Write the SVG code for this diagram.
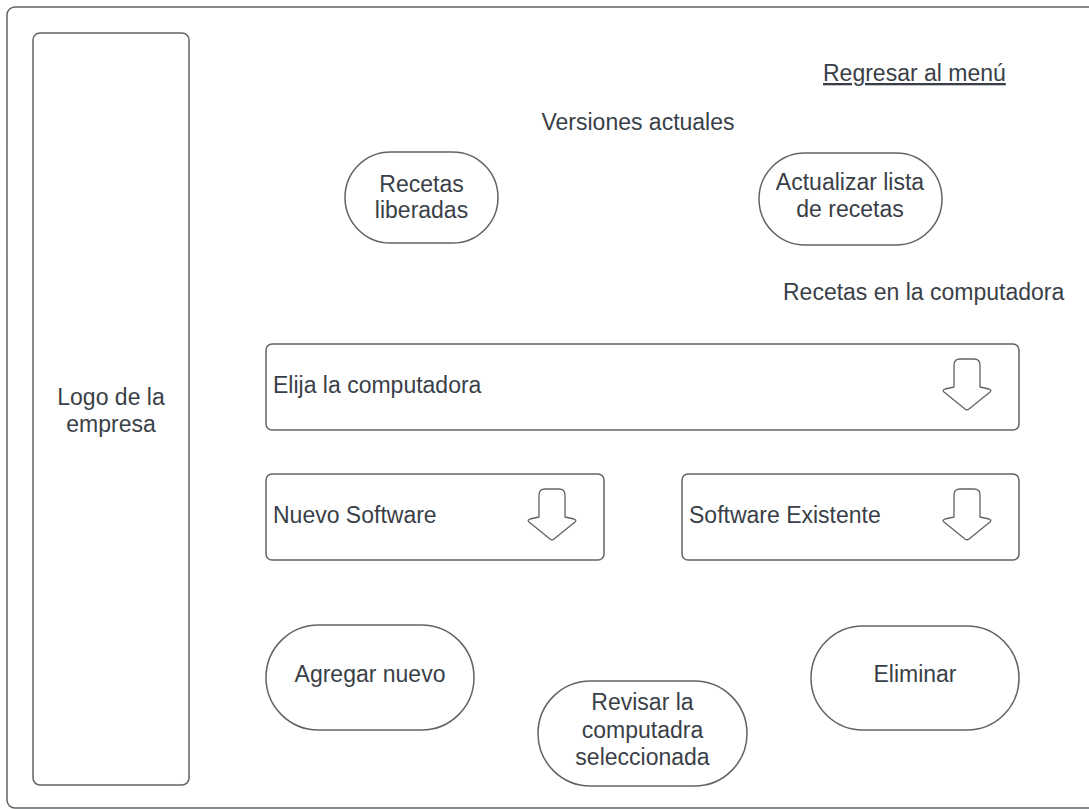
<svg xmlns="http://www.w3.org/2000/svg" width="1089" height="809" viewBox="0 0 1089 809">
<defs>
<style>
.box{fill:#fff;stroke:#5f6368;stroke-width:1.5}
.t{font-family:"Liberation Sans",Arial,sans-serif;font-size:23px;fill:#3a3f47}
.c{text-anchor:middle}
.arr{fill:#fff;stroke:#5f6368;stroke-width:1.3;stroke-linejoin:round}
</style>
<path id="down" d="M11,28 L11,6 Q11,0 17,0 L31,0 Q37,0 37,6 L37,28 L46,30 Q49,31 47,33 L26,50 Q24,51.5 22,50 L1,33 Q-1,31 2,30 Z"/>
</defs>
<rect width="1089" height="809" fill="#fff"/>
<g id="frame"><rect class="box" x="7" y="7" width="1092" height="801" rx="8"/></g>
<g id="logo"><rect class="box" x="33" y="33" width="156" height="752" rx="7"/>
<text class="t c" x="111" y="405">Logo de la</text><text class="t c" x="111" y="432">empresa</text></g>
<g id="regresar"><text class="t" x="823" y="81" text-decoration="underline">Regresar al menú</text></g>
<g id="versiones"><text class="t c" x="638" y="130">Versiones actuales</text></g>
<g id="recetas-liberadas"><rect class="box" x="345" y="152" width="153" height="91" rx="45.5"/>
<text class="t c" x="421.5" y="192">Recetas</text><text class="t c" x="421.5" y="218">liberadas</text></g>
<g id="actualizar"><rect class="box" x="759" y="153" width="183" height="92" rx="46"/>
<text class="t c" x="850" y="190">Actualizar lista</text><text class="t c" x="850" y="217">de recetas</text></g>
<g id="recetas-comp"><text class="t" x="783" y="300">Recetas en la computadora</text></g>
<g id="elija"><rect class="box" x="266" y="344" width="753" height="86" rx="6"/>
<text class="t" x="273" y="393">Elija la computadora</text>
<use href="#down" class="arr" x="943" y="359"/></g>
<g id="nuevo"><rect class="box" x="266" y="474" width="338" height="86" rx="6"/>
<text class="t" x="273" y="523">Nuevo Software</text>
<use href="#down" class="arr" x="528" y="489"/></g>
<g id="existente"><rect class="box" x="682" y="474" width="337" height="86" rx="6"/>
<text class="t" x="689" y="523">Software Existente</text>
<use href="#down" class="arr" x="943" y="489"/></g>
<g id="agregar"><rect class="box" x="266" y="625" width="208" height="105" rx="52.5"/>
<text class="t c" x="370" y="682">Agregar nuevo</text></g>
<g id="revisar"><rect class="box" x="538" y="681" width="209" height="105" rx="52.5"/>
<text class="t c" x="642.5" y="710">Revisar la</text><text class="t c" x="642.5" y="738">computadra</text><text class="t c" x="642.5" y="765">seleccionada</text></g>
<g id="eliminar"><rect class="box" x="811" y="626" width="208" height="104" rx="52"/>
<text class="t c" x="915" y="682">Eliminar</text></g>
<g id="connectors"></g>
</svg>
